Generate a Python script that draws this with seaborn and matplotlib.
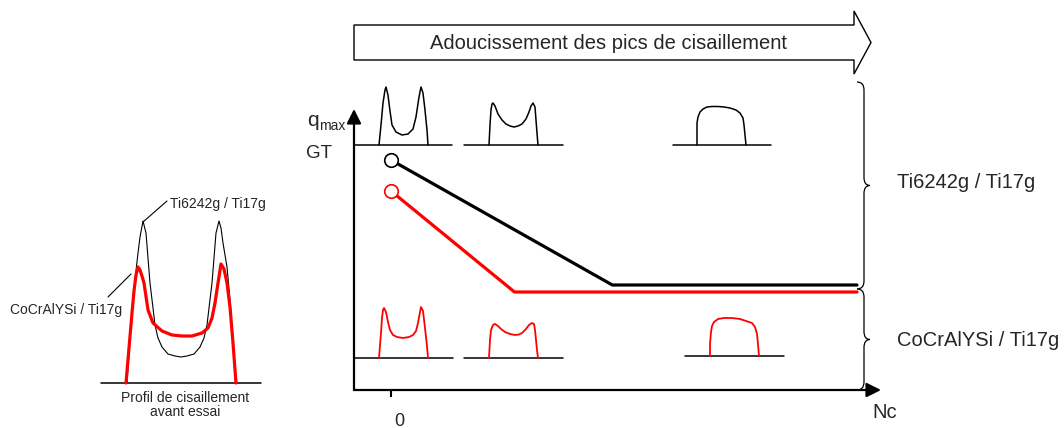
import matplotlib
matplotlib.use("Agg")
import matplotlib.pyplot as plt
from matplotlib.patches import FancyArrow, PathPatch
from matplotlib.path import Path
import seaborn as sns

# main chart: q_max versus number of cycles (schematic units)
nc_ti = [0, 47.5, 100]
q_ti = [230, 105, 105]
nc_co = [0, 26.5, 100]
q_co = [199, 98, 98]

# small shear profiles, Ti6242g / Ti17g (top row)
ti_sharp_x = [24, 26, 28, 30, 31, 33, 35, 37, 41, 47, 53, 58, 61, 64, 66, 68, 70, 72, 73]
ti_sharp_q = [0, 20, 42, 55, 58, 50, 34, 20, 13, 10, 11, 16, 28, 48, 58, 52, 35, 15, 0]
ti_soft_x = [25, 26, 27, 28, 29, 31, 34, 38, 42, 46, 50, 54, 58, 62, 65, 67, 69, 71, 72, 73, 74]
ti_soft_q = [0, 20, 35, 41, 42, 39, 31, 25, 21, 19, 18, 19, 21, 26, 33, 39, 42, 38, 25, 12, 0]
ti_flat_x = [24, 24, 24, 25, 27, 30, 34, 39, 45, 51, 57, 63, 67, 70, 71, 72, 73]
ti_flat_q = [0, 10, 22, 28, 33, 36, 38, 38.5, 38.5, 38, 37, 35, 32, 27, 20, 10, 0]

# small shear profiles, CoCrAlYSi / Ti17g (bottom row)
co_sharp_x = [24, 26, 27, 28, 29, 31, 33, 35, 38, 42, 48, 54, 58, 61, 63, 65, 66, 68, 70, 72, 73]
co_sharp_q = [0, 25, 40, 48, 50, 46, 36, 28, 23, 21, 20, 21, 23, 27, 35, 46, 51, 47, 30, 12, 0]
co_soft_x = [25, 26, 27, 29, 31, 34, 37, 41, 46, 51, 55, 58, 62, 65, 68, 70, 71, 72, 73, 74]
co_soft_q = [0, 18, 28, 33, 34, 32, 29, 26, 24, 23, 23.5, 25, 29, 33, 35, 34, 28, 18, 8, 0]
co_flat_x = [25, 25, 26, 27, 29, 33, 39, 47, 55, 61, 67, 70, 72, 73, 74]
co_flat_q = [0, 12, 24, 30, 34, 37, 38, 38, 37, 35, 33, 29, 22, 12, 0]

# large profile before test
init_ti_x = [26, 29, 32, 35, 37, 39, 42, 45, 47, 49, 52, 54, 57, 61, 67, 74, 80,
             86, 93, 99, 103, 106, 108, 111, 113, 115, 118, 120, 122, 124, 126, 129, 132, 135]
init_ti_q = [0, 45, 85, 112, 130, 146, 162, 150, 125, 100, 75, 58, 45, 36, 29, 27, 26,
             27, 29, 36, 45, 58, 75, 100, 125, 150, 162, 155, 140, 128, 116, 83, 42, 0]
init_co_x = [25, 28, 31, 33, 35, 37, 39, 41, 43, 47, 52, 61, 71, 81, 91, 101, 107,
             111, 114, 117, 120, 123, 126, 129, 132, 135]
init_co_q = [0, 35, 70, 92, 108, 116, 113, 107, 100, 73, 60, 52, 48, 47, 47, 50, 55,
             65, 80, 100, 119, 114, 100, 76, 40, 0]

W, H = 1064, 428
RED = "#ff0000"

sns.set_style("white")
plt.rcParams["font.family"] = ["Liberation Sans", "DejaVu Sans"]


def px_rect(left, base, width, height):
    return [left / W, (H - base) / H, width / W, height / H]


def profile(fig, left, base, width, height, xs, qs, color, lw):
    ax = fig.add_axes(px_rect(left, base, width, height))
    ax.set_xlim(0, width)
    ax.set_ylim(0, height)
    ax.axis("off")
    ax.axhline(0, color="black", lw=1.1, clip_on=False, zorder=1)
    sns.lineplot(x=xs, y=qs, ax=ax, color=color, lw=lw, sort=False,
                 estimator=None, clip_on=False, zorder=2)
    return ax


def brace(ax, x_end, x_mid, x_tip, y0, y1):
    ym = (y0 + y1) / 2
    verts = [(x_end, y0), (x_mid, y0), (x_mid, y0 + 8), (x_mid, ym - 8),
             (x_mid, ym), (x_tip, ym), (x_mid, ym), (x_mid, ym + 8),
             (x_mid, y1 - 8), (x_mid, y1), (x_end, y1)]
    codes = [Path.MOVETO, Path.CURVE3, Path.CURVE3, Path.LINETO,
             Path.CURVE3, Path.CURVE3, Path.CURVE3, Path.CURVE3,
             Path.LINETO, Path.CURVE3, Path.CURVE3]
    ax.add_patch(PathPatch(Path(verts, codes), fc="none", ec="black", lw=0.9))


fig = plt.figure(figsize=(W / 100, H / 100), dpi=100)

# main chart
ax = fig.add_axes(px_rect(354, 390, 527, 281))
ax.set_facecolor("none")
ax.set_xlim(-7.94, 105.15)
ax.set_ylim(0, 281)
for s in ax.spines.values():
    s.set_visible(False)
arrow_kw = dict(arrowstyle="-|>,head_length=0.6,head_width=0.3", mutation_scale=14.4,
                lw=1.6, color="black", shrinkA=0, shrinkB=0)
ax.annotate("", xy=(1, 0), xytext=(0, 0), xycoords="axes fraction", arrowprops=arrow_kw)
ax.annotate("", xy=(0, 1), xytext=(0, 0), xycoords="axes fraction", arrowprops=arrow_kw)
ax.set_xticks([0])
ax.set_xticklabels([""])
ax.set_yticks([])
ax.tick_params(axis="x", direction="out", length=5, width=1.5, color="black", bottom=True)

sns.lineplot(x=nc_ti, y=q_ti, ax=ax, color="black", lw=2.3, sort=False, estimator=None)
sns.lineplot(x=nc_co, y=q_co, ax=ax, color=RED, lw=2.3, sort=False, estimator=None)
sns.scatterplot(x=nc_ti[:1], y=q_ti[:1], ax=ax, s=95, facecolor="white",
                edgecolor="black", linewidth=1.2, zorder=5)
sns.scatterplot(x=nc_co[:1], y=q_co[:1], ax=ax, s=95, facecolor="white",
                edgecolor=RED, linewidth=1.2, zorder=5)
ax.set_xlabel("")
ax.set_ylabel("")

# profiles along the chart
profile(fig, 355, 145, 97, 65, ti_sharp_x, ti_sharp_q, "black", 1.1)
profile(fig, 464, 145, 99, 65, ti_soft_x, ti_soft_q, "black", 1.1)
profile(fig, 673, 145, 98, 65, ti_flat_x, ti_flat_q, "black", 1.1)
profile(fig, 355, 358, 98, 60, co_sharp_x, co_sharp_q, RED, 1.3)
profile(fig, 464, 358, 99, 60, co_soft_x, co_soft_q, RED, 1.3)
profile(fig, 685, 356, 99, 60, co_flat_x, co_flat_q, RED, 1.3)

# initial profile on the left
big = profile(fig, 101, 383, 160, 175, init_ti_x, init_ti_q, "black", 0.8)
sns.lineplot(x=init_co_x, y=init_co_q, ax=big, color=RED, lw=2.3, sort=False,
             estimator=None, clip_on=False, zorder=3)

# annotations
deco = fig.add_axes([0, 0, 1, 1])
deco.set_xlim(0, W)
deco.set_ylim(H, 0)
deco.axis("off")
deco.set_facecolor("none")

deco.add_patch(FancyArrow(354, 42.5, 517, 0, width=35, head_width=63, head_length=17,
                          length_includes_head=True, fc="white", ec="black", lw=1.0))
deco.text(609, 43, "Adoucissement des pics de cisaillement", fontsize=14.5,
          ha="center", va="center")

brace(deco, 857, 864, 870, 82, 289)
brace(deco, 857, 864, 870, 289, 390)
deco.text(897, 182, "Ti6242g / Ti17g", fontsize=14.5, ha="left", va="center")
deco.text(897, 340, "CoCrAlYSi / Ti17g", fontsize=14.5, ha="left", va="center")

deco.text(307, 126, "q", fontsize=15, ha="left", va="baseline")
deco.text(319, 130, "max", fontsize=10, ha="left", va="baseline")
deco.text(306, 153, "GT", fontsize=13.5, ha="left", va="center")
deco.text(872, 413, "Nc", fontsize=14.5, ha="left", va="center")
deco.text(399, 421, "0", fontsize=13, ha="center", va="center")

deco.plot([143, 167], [222, 201], color="black", lw=0.8)
deco.plot([108, 131], [297, 274], color="black", lw=0.8)
deco.text(170, 204, "Ti6242g / Ti17g", fontsize=10, ha="left", va="center")
deco.text(122, 310, "CoCrAlYSi / Ti17g", fontsize=10, ha="right", va="center")
deco.text(185, 398, "Profil de cisaillement", fontsize=10, ha="center", va="center")
deco.text(185, 412, "avant essai", fontsize=10, ha="center", va="center")

fig.savefig("out.png", dpi=100)
